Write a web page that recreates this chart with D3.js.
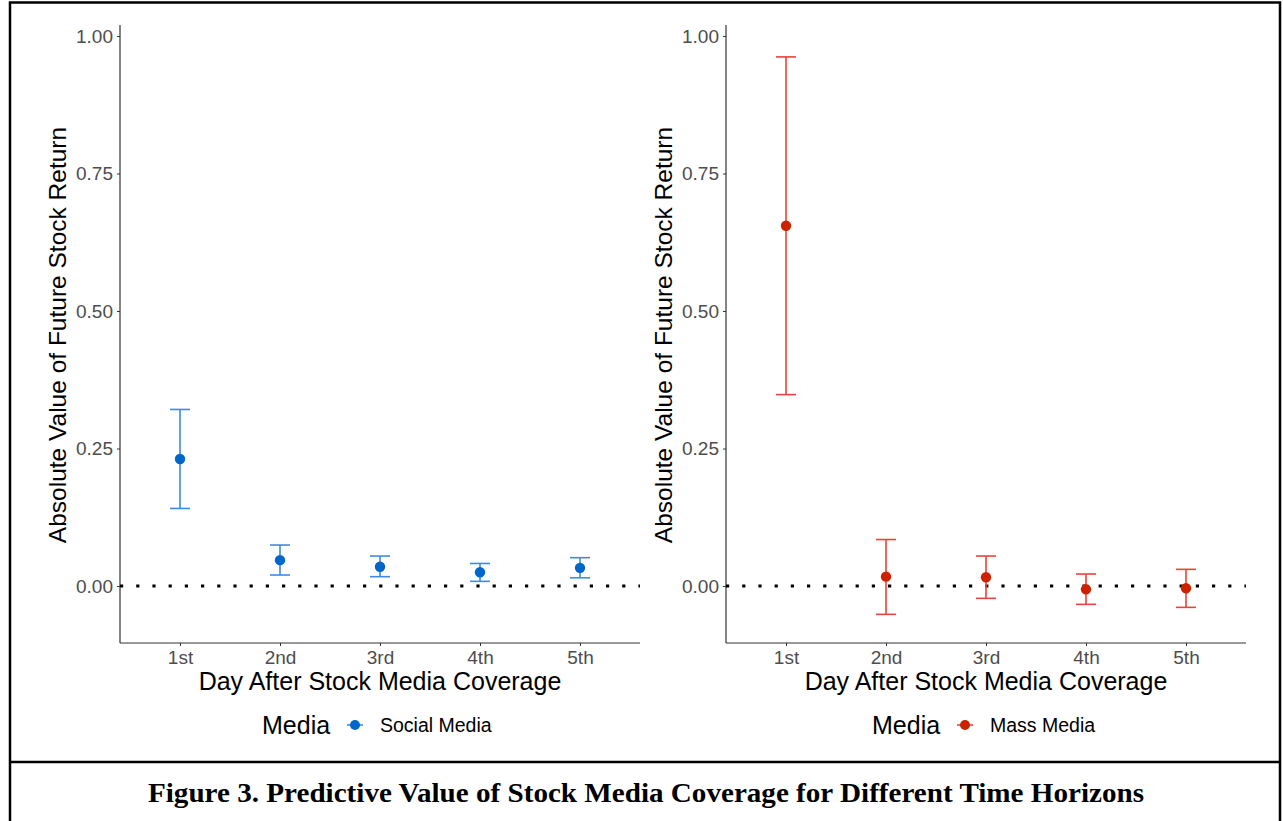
<!DOCTYPE html>
<html>
<head>
<meta charset="utf-8">
<script src="https://cdn.jsdelivr.net/npm/d3@7"></script>
<style>
  html, body { margin: 0; padding: 0; background: #fff; }
  svg { display: block; }
</style>
</head>
<body>
<svg id="fig" width="1283" height="821"></svg>
<script>
// Day categories shared by both panels
const days = ["1st", "2nd", "3rd", "4th", "5th"];
const yTicks = [0, 0.25, 0.5, 0.75, 1.0];

// Social media: estimate with lower / upper confidence bounds
const socialEst   = [0.231, 0.047, 0.035, 0.025, 0.033];
const socialLower = [0.141, 0.020, 0.017, 0.0085, 0.015];
const socialUpper = [0.321, 0.0745, 0.0545, 0.041, 0.0515];

// Mass media: estimate with lower / upper confidence bounds
const massEst   = [0.655, 0.017, 0.016, -0.006, -0.004];
const massLower = [0.348, -0.0515, -0.0224, -0.0333, -0.0388];
const massUpper = [0.962, 0.0845, 0.0545, 0.0218, 0.0303];

const svg = d3.select("#fig");
const font = "'Liberation Sans', Arial, sans-serif";

// outer frame and caption box
svg.append("rect").attr("x", 10).attr("y", 2.5).attr("width", 1270).attr("height", 830)
  .attr("fill", "none").attr("stroke", "#000").attr("stroke-width", 2.5);
svg.append("line").attr("x1", 10).attr("x2", 1280).attr("y1", 762).attr("y2", 762)
  .attr("stroke", "#000").attr("stroke-width", 2.5);
svg.append("text").attr("x", 646).attr("y", 802).attr("text-anchor", "middle")
  .attr("font-family", "'Liberation Serif', 'Times New Roman', serif")
  .attr("font-weight", "bold").attr("font-size", 27)
  .attr("textLength", 996).attr("lengthAdjust", "spacingAndGlyphs")
  .text("Figure 3. Predictive Value of Stock Media Coverage for Different Time Horizons");

function panel(opts) {
  const g = svg.append("g");
  const x0 = opts.axisX, x1 = opts.axisX + 520;
  const x = d3.scalePoint().domain(days).range([x0 + 60, x1 - 60]);
  const y = d3.scaleLinear().domain([-0.1036, 1.02]).range([643, 25]);

  // y axis
  const ya = g.append("g").attr("transform", `translate(${x0},0)`)
    .call(d3.axisLeft(y).tickValues(yTicks).tickFormat(d3.format(".2f")).tickSize(3).tickPadding(4));
  ya.select(".domain").attr("stroke", "#333").attr("stroke-width", 1.2).attr("d", `M0,${y.range()[0]}V${y.range()[1]}`);
  ya.selectAll(".tick line").attr("stroke", "#333");
  ya.selectAll(".tick text").attr("fill", "#4d4d4d").attr("font-size", 19).attr("font-family", font);

  // x axis
  const xa = g.append("g").attr("transform", `translate(0,643)`)
    .call(d3.axisBottom(x).tickSize(3).tickPadding(2));
  xa.select(".domain").attr("stroke", "#333").attr("stroke-width", 1.2).attr("d", `M${x0},0H${x1}`);
  xa.selectAll(".tick line").attr("stroke", "#333");
  xa.selectAll(".tick text").attr("fill", "#4d4d4d").attr("font-size", 19).attr("font-family", font)
    .attr("dy", "0.85em");

  // zero reference line
  g.append("line").attr("x1", x0).attr("x2", x1).attr("y1", y(0)).attr("y2", y(0))
    .attr("stroke", "#000").attr("stroke-width", 3.2).attr("stroke-dasharray", "3.2,13");

  // axis titles
  g.append("text").attr("x", (x0 + x1) / 2).attr("y", 690).attr("text-anchor", "middle")
    .attr("font-family", font).attr("font-size", 25).attr("fill", "#000")
    .text("Day After Stock Media Coverage");
  g.append("text").attr("transform", `translate(${x0 - 54},${(y.range()[0] + y.range()[1]) / 2 + 1}) rotate(-90)`)
    .attr("text-anchor", "middle").attr("font-family", font).attr("font-size", 24.5).attr("fill", "#000")
    .text("Absolute Value of Future Stock Return");

  // error bars
  const rows = days.map((d, i) => ({ d, est: opts.est[i], lo: opts.lower[i], hi: opts.upper[i] }));
  const eb = g.append("g").attr("stroke", opts.barColor).attr("stroke-width", 1.6).attr("fill", "none");
  eb.selectAll("line.v").data(rows).join("line").attr("class", "v")
    .attr("x1", r => x(r.d)).attr("x2", r => x(r.d)).attr("y1", r => y(r.lo)).attr("y2", r => y(r.hi));
  eb.selectAll("line.t").data(rows).join("line").attr("class", "t")
    .attr("x1", r => x(r.d) - 10).attr("x2", r => x(r.d) + 10).attr("y1", r => y(r.hi)).attr("y2", r => y(r.hi));
  eb.selectAll("line.b").data(rows).join("line").attr("class", "b")
    .attr("x1", r => x(r.d) - 10).attr("x2", r => x(r.d) + 10).attr("y1", r => y(r.lo)).attr("y2", r => y(r.lo));

  // point estimates
  g.selectAll("circle.pt").data(rows).join("circle").attr("class", "pt")
    .attr("cx", r => x(r.d)).attr("cy", r => y(r.est)).attr("r", 5.2).attr("fill", opts.pointColor);

  // legend
  const lg = g.append("g");
  lg.append("text").attr("x", opts.legendX).attr("y", 734).attr("font-family", font)
    .attr("font-size", 25).attr("fill", "#000").text("Media");
  const kx = opts.legendX + 93;
  lg.append("line").attr("x1", kx - 8).attr("x2", kx + 8).attr("y1", 725).attr("y2", 725)
    .attr("stroke", opts.barColor).attr("stroke-width", 1.6);
  lg.append("circle").attr("cx", kx).attr("cy", 725).attr("r", 5).attr("fill", opts.pointColor);
  lg.append("text").attr("x", kx + 25).attr("y", 732).attr("font-family", font)
    .attr("font-size", 19.5).attr("fill", "#000").text(opts.name);
}

panel({ axisX: 120, est: socialEst, lower: socialLower, upper: socialUpper,
  barColor: "#3d8be3", pointColor: "#0066cc", name: "Social Media", legendX: 262 });
panel({ axisX: 726, est: massEst, lower: massLower, upper: massUpper,
  barColor: "#e5453d", pointColor: "#cc2200", name: "Mass Media", legendX: 872 });
</script>
</body>
</html>
